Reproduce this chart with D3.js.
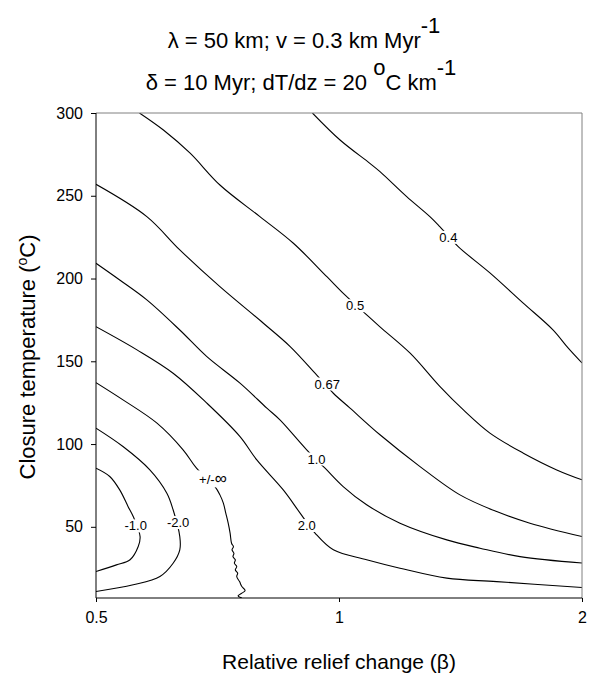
<!DOCTYPE html>
<html>
<head>
<meta charset="utf-8">
<script src="https://cdn.jsdelivr.net/npm/d3@7"></script>
<style>
  body { margin: 0; background: #fff; }
  text { font-family: "Liberation Sans", Arial, Helvetica, sans-serif; fill: #000; }
</style>
</head>
<body>
<svg id="chart" width="593" height="677"></svg>
<script>
// Axis ticks
const betaTicks = [0.5, 1, 2];
const tempTicks = [50, 100, 150, 200, 250, 300];
const betaDomain = [0.5, 2];
const tempDomain = [7, 300];

// Contour polylines, points as [beta, closure temperature (°C)]
const c04 = [[0.927,300],[1.003,283.7],[1.092,269.6],[1.124,264.6],[1.213,249.5],[1.296,237.4],[1.334,231.2],[1.405,219.3],[1.538,203.4],[1.690,185.3],[1.841,169.0],[1.922,158.1],[2.0,149.0]];
const c05 = [[0.566,300],[0.606,289.7],[0.654,275.7],[0.712,256.5],[0.798,237.4],[0.878,221.3],[0.966,201.1],[1.017,190.1],[1.077,179.0],[1.124,170.8],[1.225,154.9],[1.334,134.7],[1.426,120.6],[1.538,106.6],[1.692,94.5],[1.861,84.4],[2.0,78.4]];
const c067 = [[0.5,256.9],[0.578,237.4],[0.635,217.3],[0.712,195.1],[0.806,173.0],[0.870,158.9],[0.938,141.8],[0.984,130.7],[1.032,121.7],[1.124,105.6],[1.260,86.4],[1.412,69.3],[1.568,59.2],[1.724,52.2],[2.0,44.1]];
const c10 = [[0.5,209.2],[0.535,199.1],[0.578,187.1],[0.635,168.9],[0.686,152.8],[0.754,136.8],[0.814,121.7],[0.845,114.6],[0.912,96.5],[0.961,85.4],[1.012,74.3],[1.082,63.3],[1.190,52.2],[1.360,42.1],[1.495,37.1],[1.676,32.0],[2.0,28.1]];
const c20 = [[0.5,170.9],[0.562,156.9],[0.623,142.8],[0.686,124.7],[0.754,104.5],[0.791,90.4],[0.853,72.3],[0.895,58.3],[0.934,46.2],[0.984,36.1],[1.082,30.1],[1.190,25.0],[1.360,19.0],[1.568,16.9],[2.0,13.3]];
const cInf = [[0.5,137.1],[0.540,126.7],[0.595,112.6],[0.641,96.5],[0.666,85.4],[0.702,74.3],[0.712,69.3],[0.719,64.3],[0.724,58.3],[0.729,52.2],[0.733,46.2],[0.736,40.1],[0.740,38.0],[0.737,36.1],[0.741,34.0],[0.739,32.0],[0.744,30.0],[0.742,28.0],[0.747,26.0],[0.744,24.0],[0.749,22.0],[0.747,20.0],[0.753,16.9],[0.758,13.9],[0.765,11.5],[0.750,8.3],[0.758,7.0]];
const cm20 = [[0.5,109.6],[0.540,98.5],[0.583,84.4],[0.612,70.3],[0.623,60.3],[0.635,44.1],[0.635,36.1],[0.623,28.0],[0.600,20.0],[0.556,15.0],[0.5,10.9]];
const cm10 = [[0.5,85.4],[0.520,80.4],[0.535,72.3],[0.548,62.2],[0.556,56.2],[0.567,44.1],[0.564,38.1],[0.551,30.1],[0.530,27.0],[0.5,23.0]];

// Contour labels and their anchor positions
const labelText = ["0.4", "0.5", "0.67", "1.0", "2.0", "+/-\u221E", "-2.0", "-1.0"];
const labelBeta = [1.366, 1.047, 0.967, 0.938, 0.912, 0.698, 0.632, 0.560];
const labelTemp = [224.9, 183.6, 136.3, 91.0, 50.8, 78.4, 52.6, 50.6];

const contours = [c04, c05, c067, c10, c20, cInf, cm20, cm10];

const svg = d3.select("#chart");
const plotLeft = 96, plotRight = 582, plotTop = 113, plotBottom = 598;

const x = d3.scaleLog().domain(betaDomain).range([plotLeft, plotRight]);
const y = d3.scaleLinear().domain(tempDomain).range([plotBottom, plotTop]);

// Title, two lines with raised exponents
const title = svg.append("g").attr("font-size", 22).attr("text-anchor", "middle");
const t1 = title.append("text").attr("x", 304).attr("y", 48);
t1.append("tspan").text("\u03BB = 50 km; v = 0.3 km Myr");
t1.append("tspan").attr("dy", "-0.7em").text("-1");
const t2 = title.append("text").attr("x", 301).attr("y", 90);
t2.append("tspan").text("\u03B4 = 10 Myr; dT/dz = 20 ");
t2.append("tspan").attr("dy", "-0.7em").text("o");
t2.append("tspan").attr("dy", "0.7em").text("C km");
t2.append("tspan").attr("dy", "-0.7em").text("-1");

// Clip region for contour lines
svg.append("clipPath").attr("id", "plotClip")
  .append("rect").attr("x", plotLeft).attr("y", plotTop)
  .attr("width", plotRight - plotLeft).attr("height", plotBottom - plotTop);

const line = d3.line()
  .x(d => x(d[0]))
  .y(d => y(d[1]))
  .curve(d3.curveCatmullRom.alpha(0.5));

const lines = svg.append("g").attr("clip-path", "url(#plotClip)");
contours.forEach(c => {
  lines.append("path")
    .attr("d", line(c))
    .attr("fill", "none")
    .attr("stroke", "#000")
    .attr("stroke-width", 1.1)
    .attr("stroke-linejoin", "round");
});

// Contour labels on white patches
const labels = svg.append("g").attr("font-size", 13);
labelText.forEach((txt, i) => {
  const g = labels.append("g");
  const rect = g.append("rect").attr("fill", "#fff");
  const t = g.append("text")
    .attr("x", x(labelBeta[i]))
    .attr("y", y(labelTemp[i]))
    .attr("dy", "0.35em")
    .attr("text-anchor", "middle");
  if (txt.endsWith("\u221E")) {
    t.append("tspan").text(txt.slice(0, -1));
    t.append("tspan").attr("font-size", 17).text("\u221E");
  } else {
    t.text(txt);
  }
  const bb = t.node().getBBox();
  rect.attr("x", bb.x - 2).attr("y", bb.y + 1)
    .attr("width", bb.width + 4).attr("height", bb.height - 2);
});

// Plot frame: top and right edges
svg.append("path")
  .attr("d", `M${plotLeft},${plotTop}H${plotRight}V${plotBottom}`)
  .attr("fill", "none").attr("stroke", "#808080").attr("stroke-width", 1);

// Axes
const yAxis = d3.axisLeft(y).tickValues(tempTicks).tickSize(5).tickSizeOuter(0).tickPadding(8);
const gy = svg.append("g").attr("transform", `translate(${plotLeft},0)`).call(yAxis);
gy.selectAll("text").attr("font-size", 16).attr("font-family", null);
gy.select(".domain").attr("stroke", "#000").attr("d", `M0,${plotTop}V${plotBottom}`);

const xAxis = d3.axisBottom(x).tickValues(betaTicks).tickFormat(d3.format("")).tickSize(4).tickSizeOuter(0).tickPadding(10);
const gx = svg.append("g").attr("transform", `translate(0,${plotBottom})`).call(xAxis);
gx.selectAll("text").attr("font-size", 16).attr("font-family", null);
gx.select(".domain").attr("stroke", "#000").attr("d", `M${plotLeft},0H${plotRight}`);

// Axis titles
svg.append("text")
  .attr("x", 339).attr("y", 669)
  .attr("text-anchor", "middle").attr("font-size", 21)
  .text("Relative relief change (\u03B2)");

const yl = svg.append("text")
  .attr("transform", "translate(35,357) rotate(-90)")
  .attr("text-anchor", "middle").attr("font-size", 22);
yl.append("tspan").text("Closure temperature (");
yl.append("tspan").attr("font-size", 14).attr("dy", "-0.6em").text("o");
yl.append("tspan").attr("dy", "0.38em").text("C)");
</script>
</body>
</html>
